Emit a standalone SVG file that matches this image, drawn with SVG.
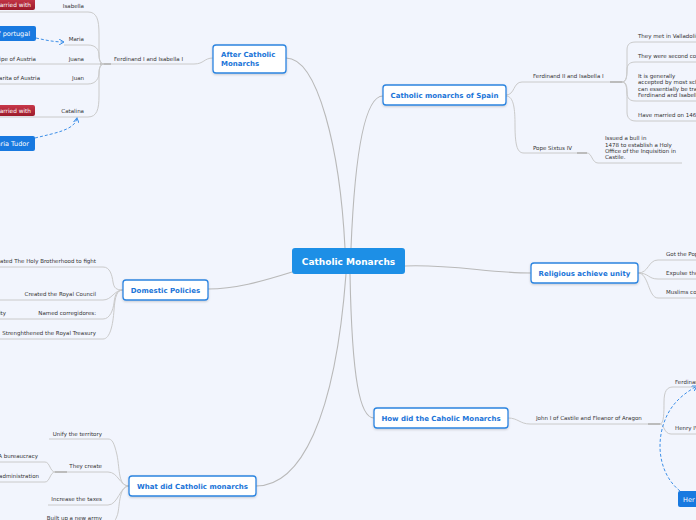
<svg xmlns="http://www.w3.org/2000/svg" width="696" height="520" viewBox="0 0 696 520">
<defs>
<style>
.bg{fill:#f2f5fd}
.main rect{fill:#fff;stroke:#2b84e0;stroke-width:1.3;filter:url(#sh)}
.main text{font-family:"DejaVu Sans",Verdana,sans-serif;font-size:7px;font-weight:bold;fill:#1a74d8}
.sub{font-family:"DejaVu Sans",Verdana,sans-serif;font-size:5.5px;fill:#333}
.c{fill:none;stroke:#b9b9b9;stroke-width:1.1}
.u{fill:none;stroke:#cacaca;stroke-width:1}
.k{fill:none;stroke:#bcbcbc;stroke-width:2}
.d{fill:none;stroke:#3d8fe8;stroke-width:1;stroke-dasharray:3 2;marker-end:url(#ah)}
.bb{fill:#1879e0}
.rb{fill:url(#rg)}
.bt{font-family:"DejaVu Sans",Verdana,sans-serif;font-size:6.5px;fill:#fff}
.rt{font-family:"DejaVu Sans",Verdana,sans-serif;font-size:5.8px;fill:#fff}
</style>
<linearGradient id="rg" x1="0" y1="0" x2="0" y2="1"><stop offset="0" stop-color="#c8384a"/><stop offset="1" stop-color="#9c1b2b"/></linearGradient>
<filter id="sh" x="-10%" y="-20%" width="120%" height="150%"><feDropShadow dx="0" dy="1" stdDeviation="0.8" flood-color="#000" flood-opacity="0.18"/></filter>
<marker id="ah" markerWidth="6" markerHeight="6" refX="5" refY="3" orient="auto" markerUnits="userSpaceOnUse"><path d="M0,0 L5,3 L0,6" fill="none" stroke="#3d8fe8" stroke-width="1"/></marker>
</defs>
<rect class="bg" x="0" y="0" width="696" height="520"/>

<g id="connectors">
<path class="c" d="M286,58 C318,58 340,150 345,248"/>
<path class="c" d="M351,248 C355,150 365,96 383,96"/>
<path class="c" d="M405,266 C450,264 490,273 531,273"/>
<path class="c" d="M350,274 C352,380 360,418 374,418"/>
<path class="c" d="M346,274 C335,420 300,486 256,486"/>
<path class="c" d="M292,272 C260,282 235,289 208,289"/>
<path class="u" d="M194,64 C204,64 204,58 213,58"/>
<path class="u" d="M100,64 H194"/>
<path class="k" d="M100,64 H111"/>
<path class="u" d="M0,12 H88 C97,12 99,20 99,34 L99,52 C99,60 100,64 104,64"/>
<path class="u" d="M64,45 H88 C96,45 99,50 99,55 C99,61 101,64 104,64"/>
<path class="u" d="M0,64 H104"/>
<path class="u" d="M0,84 H88 C96,84 99,78 99,73 C99,67 101,64 104,64"/>
<path class="u" d="M0,117 H88 C97,117 99,109 99,96 L99,76 C99,68 100,64 104,64"/>
<path class="d" d="M36,38 C45,40 54,42 64,42"/>
<path class="d" d="M35,138 C55,133 75,130 77,118"/>
<path class="u" d="M506,95 C515,95 513,82 522,82 H622"/>
<path class="k" d="M610,82 H622"/>
<path class="u" d="M622,82 C627,82 627,76 627,62 L627,50 C627,44 630,42 636,42 H696"/>
<path class="u" d="M622,82 C627,82 627,74 627,70 C627,64 630,62 636,62 H696"/>
<path class="u" d="M622,82 C627,82 627,88 627,92 C627,99 630,101 636,101 H696"/>
<path class="u" d="M622,82 C627,82 627,90 627,100 L627,112 C627,118 630,121 636,121 H696"/>
<path class="u" d="M506,96 C514,96 515,110 515,125 C515,148 518,153 524,153 H587"/>
<path class="k" d="M577,153 H587"/>
<path class="u" d="M587,153 C592,153 592,163 598,163 H682"/>
<path class="u" d="M638,273 C649,273 648,260 658,260 H696"/>
<path class="u" d="M638,273 C649,273 648,279 658,279 H696"/>
<path class="u" d="M638,273 C649,273 648,298 658,298 H696"/>
<path class="u" d="M508,418 C518,418 520,424 530,424 H660"/>
<path class="k" d="M648,424 H660"/>
<path class="u" d="M660,424 C664,424 664,412 664,402 C664,391 667,387 673,387 H696"/>
<path class="u" d="M660,424 C664,424 664,434 671,434 H696"/>
<path class="d" d="M680,491 C660,475 655,445 665,420 C672,402 685,393 697,386"/>
<path class="u" d="M129,486 C118,486 120,470 117,455 C114,442 112,439 108,439 H49"/>
<path class="u" d="M129,486 C120,486 118,472 108,472 H55"/>
<path class="k" d="M55,472 H67"/>
<path class="u" d="M55,472 C50,472 50,462 45,462 H0"/>
<path class="u" d="M55,472 C50,472 50,482 45,482 H0"/>
<path class="u" d="M129,486 C120,486 118,505 108,505 H48"/>
<path class="u" d="M129,486 C118,486 120,510 117,516 C115,522 112,524 108,524 H47"/>
<path class="u" d="M0,267 H103 C110,267 112,275 113,282 C114,288 116,290 123,290"/>
<path class="u" d="M0,300 H103 C112,300 114,290 123,290"/>
<path class="u" d="M0,319 H103 C110,319 113,310 114,303 C115,294 117,290 123,290"/>
<path class="u" d="M0,339 H103 C110,339 113,325 114,310 C115,296 117,290 123,290"/>
</g>

<g id="center">
<rect x="292" y="248" width="113" height="26" rx="3" fill="#1d8fe6"/>
<text x="348.5" y="265" text-anchor="middle" font-family="DejaVu Sans,Verdana,sans-serif" font-size="9" font-weight="bold" fill="#fff">Catholic Monarchs</text>
</g>

<g id="after" class="main">
<rect x="213" y="45" width="73" height="28" rx="3"/>
<text x="221" y="57">After Catholic</text>
<text x="221" y="66">Monarchs</text>
</g>
<g id="after-children">
<text class="sub" x="114" y="61">Ferdinand I and Isabella I</text>
<text class="sub" x="84" y="8" text-anchor="end">Isabella</text>
<text class="sub" x="84" y="41" text-anchor="end">Maria</text>
<text class="sub" x="84" y="61" text-anchor="end">Juana</text>
<text class="sub" x="84" y="80" text-anchor="end">Juan</text>
<text class="sub" x="84" y="113" text-anchor="end">Catalina</text>
<text class="sub" x="36" y="61" text-anchor="end">Philipe of Austria</text>
<text class="sub" x="40" y="80" text-anchor="end">Margarita of Austria</text>
<rect class="rb" x="-25" y="-2" width="60" height="12" rx="2"/>
<text class="rt" x="31" y="7" text-anchor="end">Married with</text>
<rect class="rb" x="-25" y="105" width="60" height="11" rx="2"/>
<text class="rt" x="31" y="112.5" text-anchor="end">Married with</text>
<rect class="bb" x="-45" y="26" width="81" height="15" rx="2"/>
<text class="bt" x="30" y="36" text-anchor="end">Manuel I of portugal</text>
<rect class="bb" x="-30" y="136" width="65" height="15" rx="2"/>
<text class="bt" x="29" y="146" text-anchor="end">Maria Tudor</text>
</g>

<g id="spain" class="main">
<rect x="383" y="85" width="123" height="20" rx="3"/>
<text x="444.5" y="98" text-anchor="middle">Catholic monarchs of Spain</text>
</g>
<g id="spain-children">
<text class="sub" x="533" y="78">Ferdinand II and Isabella I</text>
<text class="sub" x="638" y="38">They met in Valladolid</text>
<text class="sub" x="638" y="58">They were second cousins</text>
<text class="sub" x="638" y="78">It is generally</text>
<text class="sub" x="638" y="84">accepted by most scholars</text>
<text class="sub" x="638" y="90.5">can essentially be traced</text>
<text class="sub" x="638" y="97">Ferdinand and Isabella</text>
<text class="sub" x="638" y="117">Have married on 1469</text>
<text class="sub" x="533" y="150">Pope Sixtus IV</text>
<text class="sub" x="605" y="140">Issued a bull in</text>
<text class="sub" x="605" y="146.5">1478 to establish a Holy</text>
<text class="sub" x="605" y="153">Office of the Inquisition in</text>
<text class="sub" x="605" y="159">Castile.</text>
</g>

<g id="religious" class="main">
<rect x="531" y="263" width="107" height="20" rx="3"/>
<text x="584.5" y="276" text-anchor="middle">Religious achieve unity</text>
</g>
<g id="religious-children">
<text class="sub" x="666" y="256">Got the Pope</text>
<text class="sub" x="666" y="275">Expulse the Jews</text>
<text class="sub" x="666" y="294">Muslims converted</text>
</g>

<g id="howdid" class="main">
<rect x="374" y="408" width="134" height="20" rx="3"/>
<text x="441" y="421" text-anchor="middle">How did the Caholic Monarchs</text>
</g>
<g id="howdid-children">
<text class="sub" x="536" y="420">John I of Castile and Fleanor of Aragon</text>
<text class="sub" x="675" y="384">Ferdinand II of Aragon</text>
<text class="sub" x="675" y="430">Henry IV of Castile</text>
<rect class="bb" x="678" y="491" width="40" height="16" rx="2"/>
<text class="bt" x="683" y="502">Her brother</text>
</g>

<g id="whatdid" class="main">
<rect x="129" y="476" width="127" height="20" rx="3"/>
<text x="192.5" y="489" text-anchor="middle">What did Catholic monarchs</text>
</g>
<g id="whatdid-children">
<text class="sub" x="102" y="436" text-anchor="end">Unify the territory</text>
<text class="sub" x="102" y="468" text-anchor="end">They create</text>
<text class="sub" x="38" y="458" text-anchor="end">A bureaucracy</text>
<text class="sub" x="39" y="478" text-anchor="end">administration</text>
<text class="sub" x="102" y="501" text-anchor="end">Increase the taxes</text>
<text class="sub" x="102" y="520" text-anchor="end">Built up a new army</text>
</g>

<g id="domestic" class="main">
<rect x="123" y="280" width="85" height="20" rx="3"/>
<text x="165.5" y="293" text-anchor="middle">Domestic Policies</text>
</g>
<g id="domestic-children">
<text class="sub" x="96" y="263" text-anchor="end">Created The Holy Brotherhood to fight</text>
<text class="sub" x="96" y="296" text-anchor="end">Created the Royal Council</text>
<text class="sub" x="96" y="315" text-anchor="end">Named corregidores:</text>
<text class="sub" x="6" y="315" text-anchor="end">authority</text>
<text class="sub" x="96" y="335" text-anchor="end">Strenghthened the Royal Treasury</text>
</g>
</svg>
